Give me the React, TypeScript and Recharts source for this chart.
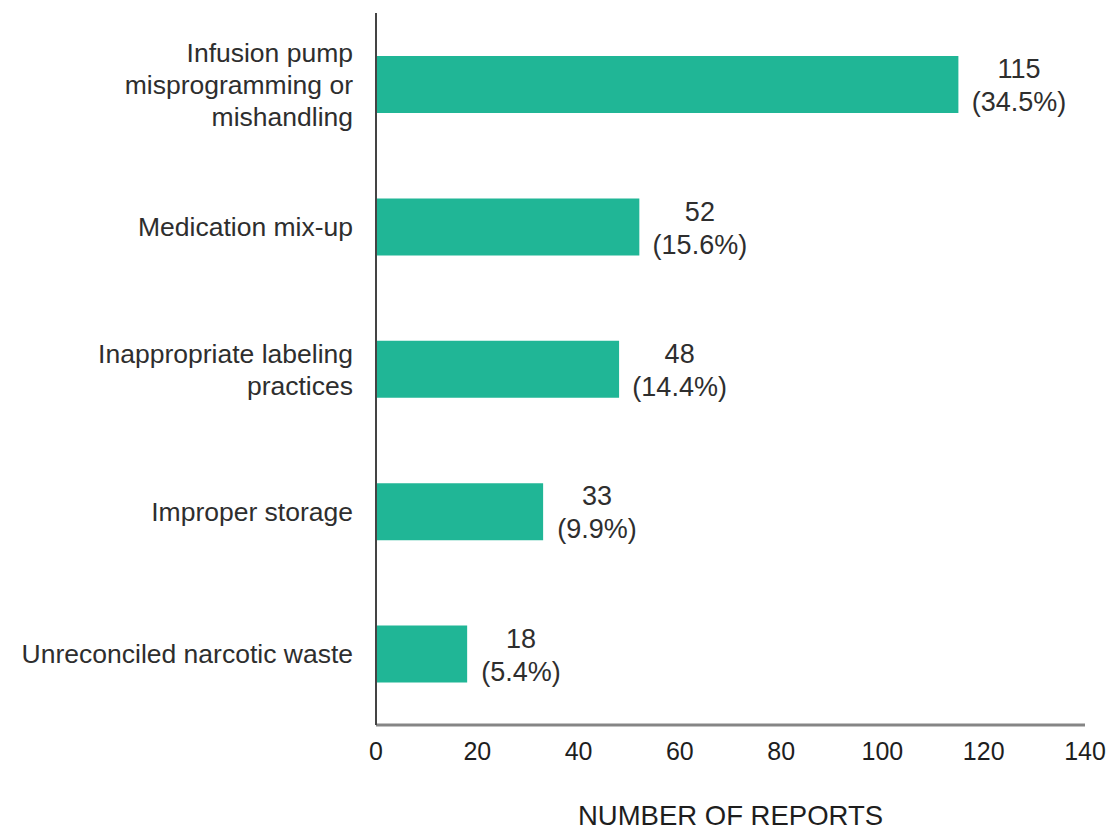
import { Bar, BarChart, LabelList, XAxis, YAxis } from "recharts";

// Report categories, top to bottom; "\n" marks where a label wraps
const categories = [
  "Infusion pump\nmisprogramming or\nmishandling",
  "Medication mix-up",
  "Inappropriate labeling\npractices",
  "Improper storage",
  "Unreconciled narcotic waste",
];
const reportCounts = [115, 52, 48, 33, 18];
const reportShares = [34.5, 15.6, 14.4, 9.9, 5.4];
const xTicks = [0, 20, 40, 60, 80, 100, 120, 140];

const BAR_COLOR = "#20b696";
const TEXT_COLOR = "#2e2e2e";
const FONT = "'Liberation Sans', Arial, sans-serif";

const data = categories.map((name, i) => ({
  name,
  count: reportCounts[i],
  share: reportShares[i],
}));

function CategoryTick(props: any) {
  const { x, y, payload } = props;
  const lines: string[] = String(payload.value).split("\n");
  const lineHeight = 32;
  const start = -((lines.length - 1) * lineHeight) / 2;
  return (
    <text
      x={x}
      y={y}
      textAnchor="end"
      fill={TEXT_COLOR}
      fontSize={26.5}
      fontFamily={FONT}
    >
      {lines.map((line, i) => (
        <tspan key={i} x={x} y={y + start + i * lineHeight} dy="0.36em">
          {line}
        </tspan>
      ))}
    </text>
  );
}

function CountLabel(props: any) {
  const { x, y, width, height, index } = props;
  const row = data[index];
  const pct = `(${row.share}%)`;
  // centre the two-line block just past the bar end
  const cx = x + width + 14 + (pct.length * 13.3) / 2;
  const cy = y + height / 2;
  return (
    <text
      textAnchor="middle"
      fill={TEXT_COLOR}
      fontSize={27}
      fontFamily={FONT}
    >
      <tspan x={cx} y={cy - 16} dy="0.36em">
        {row.count}
      </tspan>
      <tspan x={cx} y={cy + 17} dy="0.36em">
        {pct}
      </tspan>
    </text>
  );
}

export default function App() {
  return (
    <div
      style={{
        position: "absolute",
        left: 0,
        top: 0,
        width: 1119,
        height: 834,
        background: "#ffffff",
      }}
    >
      <BarChart
        width={1119}
        height={834}
        data={data}
        layout="vertical"
        margin={{ top: 13, right: 34, bottom: 0, left: 0 }}
      >
        <XAxis
          type="number"
          dataKey="count"
          domain={[0, 140]}
          ticks={xTicks}
          interval={0}
          height={109}
          axisLine={{ stroke: "#858585", strokeWidth: 3 }}
          tickLine={false}
          tickSize={0}
          tickMargin={17}
          tick={{ fill: "#1e1e1e", fontSize: 25, fontFamily: FONT }}
          label={{
            value: "NUMBER OF REPORTS",
            position: "insideBottom",
            offset: 9,
            fill: "#1e1e1e",
            fontSize: 27.5,
            fontFamily: FONT,
          }}
        />
        <YAxis
          type="category"
          dataKey="name"
          width={376}
          interval={0}
          axisLine={{ stroke: "#444444", strokeWidth: 2 }}
          tickLine={false}
          tickSize={0}
          tickMargin={23}
          tick={<CategoryTick />}
        />
        <Bar
          dataKey="count"
          fill={BAR_COLOR}
          barSize={57}
          isAnimationActive={false}
        >
          <LabelList dataKey="count" content={<CountLabel />} />
        </Bar>
      </BarChart>
    </div>
  );
}
